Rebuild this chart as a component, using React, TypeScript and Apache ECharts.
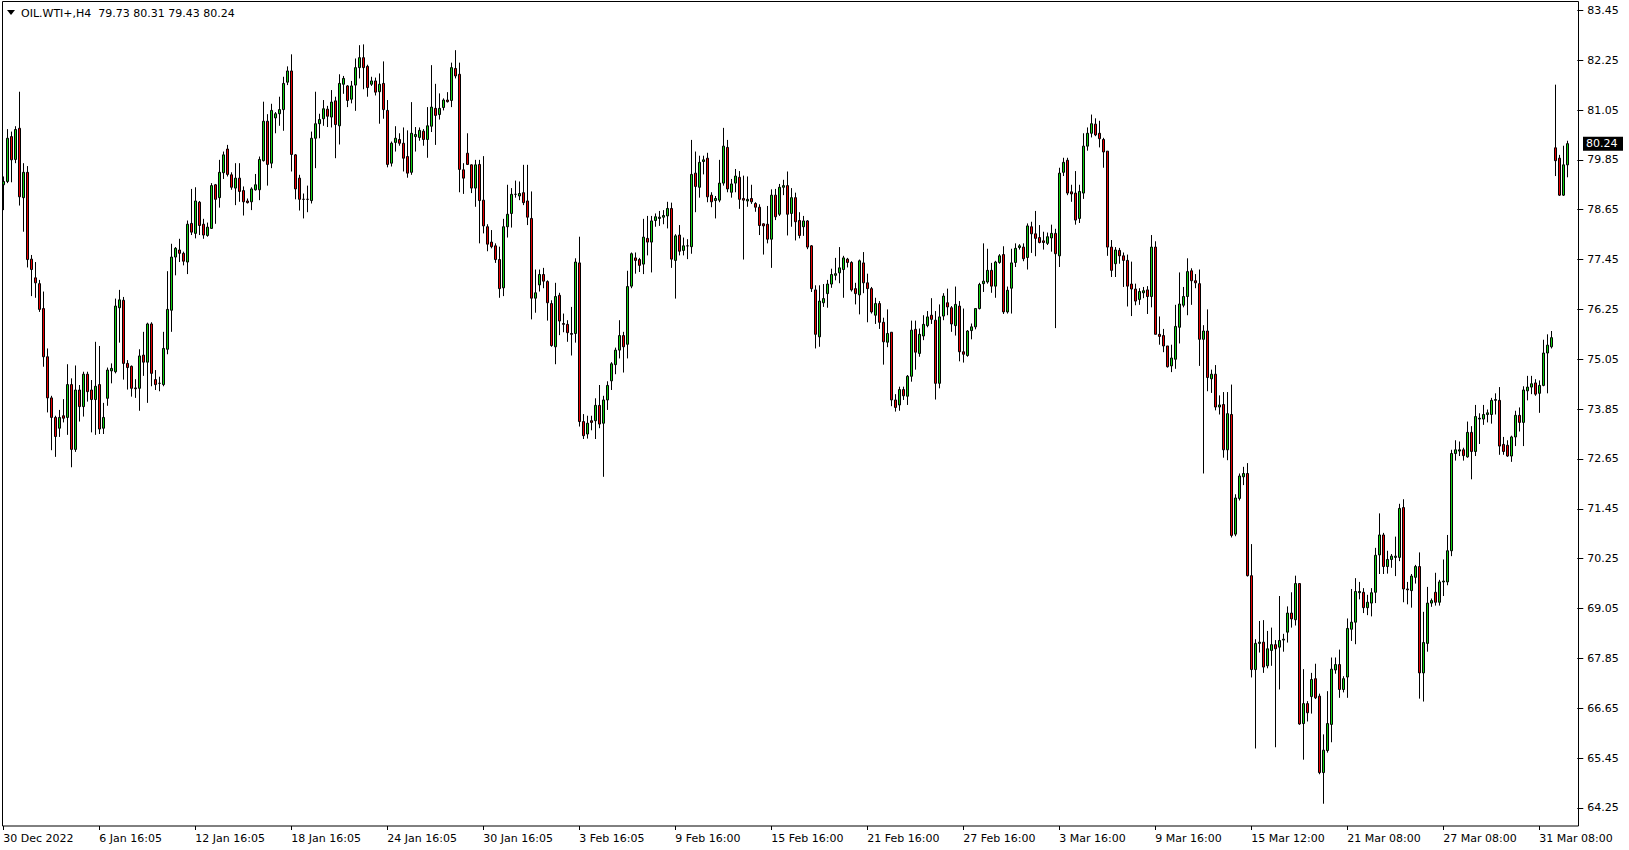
import React, { useEffect, useRef } from "react";
import * as echarts from "echarts";

const SYMBOL = "OIL.WTI+,H4";
const LAST = { open: 79.73, high: 80.31, low: 79.43, close: 80.24 };

const timeLabels = [
  "30 Dec 2022", "6 Jan 16:05", "12 Jan 16:05", "18 Jan 16:05", "24 Jan 16:05",
  "30 Jan 16:05", "3 Feb 16:05", "9 Feb 16:00", "15 Feb 16:00", "21 Feb 16:00",
  "27 Feb 16:00", "3 Mar 16:00", "9 Mar 16:00", "15 Mar 12:00", "21 Mar 08:00",
  "27 Mar 08:00", "31 Mar 08:00",
];
const BARS_PER_LABEL = 24;
const TOTAL_SLOTS = 394;

const priceTicks = [
  83.45, 82.25, 81.05, 79.85, 78.65, 77.45, 76.25, 75.05, 73.85,
  72.65, 71.45, 70.25, 69.05, 67.85, 66.65, 65.45, 64.25,
];

// each bar: [open, high, low, close]
const barsSeg1 = [
  [79.25, 79.45, 78.64, 79.33], [79.33, 80.59, 79.29, 80.37], [80.41, 80.53, 79.31, 79.85], [79.86, 80.66, 79.77, 80.58],
  [80.61, 81.49, 78.75, 78.96], [78.94, 79.77, 78.12, 79.55], [79.55, 79.7, 77.26, 77.45], [77.46, 77.56, 76.57, 77.21],
  [77.01, 77.39, 76.53, 76.89], [76.87, 76.96, 76.19, 76.25], [76.27, 76.68, 74.87, 75.11], [75.11, 75.31, 73.77, 74.12],
  [74.12, 74.17, 72.86, 73.65], [73.65, 73.69, 72.7, 73.19], [73.39, 73.83, 73.18, 73.65], [73.69, 74.09, 73.53, 73.63],
  [73.65, 74.93, 73.23, 74.44], [74.44, 74.59, 72.45, 72.88], [72.88, 74.9, 72.82, 74.31], [74.31, 74.43, 73.55, 73.91],
  [73.91, 74.75, 73.67, 74.69], [74.69, 74.75, 74.03, 74.27], [74.31, 74.55, 73.29, 74.08], [74.08, 75.47, 73.23, 74.4],
  [74.44, 75.37, 73.25, 73.37], [73.39, 74.0, 73.25, 73.65], [74.11, 74.85, 73.93, 74.79], [74.77, 74.95, 74.47, 74.83],
  [74.75, 76.51, 74.71, 76.33], [76.29, 76.72, 75.45, 76.48], [76.47, 76.55, 74.56, 74.95], [74.95, 75.03, 74.32, 74.85],
  [74.88, 74.9, 74.15, 74.35], [74.36, 74.57, 74.12, 74.34], [74.35, 75.29, 73.81, 75.13], [75.15, 75.71, 74.65, 74.98],
  [74.98, 75.93, 74.0, 75.9], [75.9, 75.94, 74.4, 74.71], [74.56, 74.79, 74.31, 74.44], [74.47, 74.63, 74.28, 74.47],
  [74.44, 75.71, 74.4, 75.31], [75.29, 77.17, 75.17, 76.25], [76.23, 77.83, 75.71, 77.51], [77.51, 77.75, 77.07, 77.72],
  [77.68, 77.95, 77.39, 77.6], [77.6, 77.64, 77.31, 77.41], [77.39, 78.39, 77.1, 78.3], [78.32, 79.15, 78.04, 78.11],
  [78.08, 79.19, 77.96, 78.86], [78.83, 78.86, 78.04, 78.27], [78.3, 78.43, 77.95, 78.04], [78.03, 78.34, 78.0, 78.23],
  [78.2, 79.29, 78.19, 79.23], [79.25, 79.27, 78.31, 78.9], [78.94, 79.85, 78.7, 79.55], [79.54, 80.05, 79.39, 79.97],
  [80.11, 80.21, 79.45, 79.5], [79.49, 79.55, 79.13, 79.19], [79.17, 79.77, 78.76, 79.41], [79.41, 79.77, 78.84, 79.09],
  [79.11, 79.21, 78.51, 78.84], [78.86, 78.92, 78.8, 78.82], [78.84, 79.19, 78.64, 79.15], [79.13, 79.51, 79.11, 79.25],
  [79.13, 79.93, 78.88, 79.86], [79.83, 81.25, 79.81, 80.78],
];

const barsSeg2 = [
  [80.78, 80.95, 79.23, 79.74], [79.77, 81.2, 79.65, 81.04], [80.86, 81.0, 80.49, 80.96], [80.96, 81.37, 80.67, 81.06],
  [81.06, 81.85, 80.55, 81.69], [81.72, 82.1, 81.65, 81.99], [81.99, 82.39, 79.57, 79.98], [79.97, 79.99, 78.9, 79.15],
  [79.41, 79.49, 78.63, 78.9], [78.9, 79.04, 78.44, 78.9], [78.9, 79.23, 78.59, 78.9], [78.87, 80.53, 78.8, 80.37],
  [80.37, 81.49, 79.65, 80.72], [80.72, 80.96, 80.37, 80.82], [80.84, 81.29, 80.67, 81.08], [81.07, 81.15, 80.64, 80.9],
  [80.88, 81.53, 80.63, 81.24], [81.27, 81.37, 79.89, 80.7], [80.67, 81.91, 80.22, 81.69], [81.67, 81.87, 81.44, 81.81],
  [81.63, 81.65, 81.12, 81.28], [81.31, 81.75, 81.21, 81.63], [81.65, 82.29, 81.03, 82.07], [82.07, 82.61, 81.81, 82.31],
  [82.31, 82.63, 81.55, 82.07], [82.1, 82.14, 81.37, 81.59], [81.67, 81.85, 81.63, 81.75], [81.75, 81.83, 81.4, 81.48],
  [81.49, 81.93, 80.72, 81.67], [81.69, 82.22, 80.84, 81.06], [81.04, 81.29, 79.67, 79.74], [79.77, 80.29, 79.69, 80.25],
  [80.27, 80.66, 80.05, 80.37], [80.34, 80.49, 80.19, 80.25], [80.25, 80.63, 79.57, 79.89], [79.93, 80.56, 79.42, 79.53],
  [79.55, 81.24, 79.49, 80.49], [80.41, 80.64, 80.05, 80.46], [80.39, 80.63, 80.31, 80.56], [80.54, 80.59, 80.19, 80.34],
  [80.34, 81.12, 79.9, 80.67], [80.66, 82.13, 80.52, 81.12], [81.09, 81.68, 80.21, 80.92], [80.94, 81.45, 80.82, 81.09],
  [81.11, 81.33, 81.04, 81.29], [81.29, 81.48, 81.23, 81.25], [81.28, 82.19, 81.12, 82.07], [82.05, 82.49, 81.81, 81.87],
  [81.91, 82.19, 79.07, 79.62], [79.61, 79.77, 79.03, 79.41], [80.01, 80.49, 79.73, 79.74], [79.73, 79.74, 79.05, 79.17],
  [79.17, 79.85, 78.72, 79.73], [79.74, 79.85, 77.84, 78.87], [78.88, 79.94, 78.08, 78.26], [78.24, 78.3, 77.65, 77.82],
  [77.87, 78.16, 77.72, 77.76], [77.78, 77.84, 77.37, 77.45], [77.45, 77.76, 76.53, 76.75], [76.77, 78.43, 76.57, 78.24],
  [78.24, 79.25, 77.98, 78.54], [78.56, 79.17, 78.22, 79.02], [79.02, 79.35, 78.94, 79.02], [78.98, 79.33, 78.88, 79.04],
  [79.06, 79.73, 78.76, 78.82],
];

const barsSeg3 = [
  [78.86, 79.73, 78.28, 78.47], [78.44, 79.09, 76.01, 76.52], [76.52, 77.21, 76.17, 76.65], [76.84, 77.21, 76.68, 77.09],
  [77.09, 77.25, 76.76, 76.93], [76.92, 76.95, 75.98, 76.41], [76.39, 76.47, 75.35, 75.38], [75.35, 76.89, 74.93, 76.56],
  [76.59, 76.65, 75.63, 75.97], [75.91, 76.15, 75.7, 75.89], [75.89, 75.99, 75.47, 75.69], [75.67, 76.31, 75.14, 75.65],
  [75.67, 77.48, 75.45, 77.39], [77.37, 78.0, 73.43, 73.55], [73.55, 73.73, 73.13, 73.21], [73.25, 73.69, 73.14, 73.51],
  [73.57, 73.69, 73.34, 73.53], [73.57, 74.11, 73.13, 73.94], [73.94, 74.43, 73.39, 73.49], [73.51, 74.17, 72.22, 74.07],
  [74.07, 74.52, 73.83, 74.42], [74.53, 74.98, 74.31, 74.94], [74.92, 75.33, 74.69, 75.27], [75.27, 75.99, 75.07, 75.62],
  [75.62, 75.71, 74.73, 75.35], [75.41, 77.18, 75.07, 76.8], [76.81, 77.62, 76.76, 77.59], [77.49, 77.62, 77.11, 77.43],
  [77.45, 77.49, 77.15, 77.31], [77.34, 78.43, 77.1, 77.99], [77.96, 78.5, 77.55, 77.87], [77.87, 78.5, 77.14, 78.38],
  [78.39, 78.56, 78.24, 78.48], [78.44, 78.62, 78.26, 78.47], [78.47, 78.64, 78.3, 78.51], [78.5, 78.84, 78.2, 78.68],
  [78.68, 78.82, 77.25, 77.46], [77.43, 78.06, 76.51, 78.02], [78.04, 78.28, 77.55, 77.65], [77.67, 77.98, 77.55, 77.78],
  [77.78, 77.94, 77.46, 77.78], [77.76, 80.33, 77.59, 79.5], [79.53, 80.05, 78.59, 79.21], [79.19, 79.95, 78.94, 79.79],
  [79.81, 79.95, 79.5, 79.85], [79.89, 80.02, 78.83, 78.96], [79.0, 79.07, 78.71, 78.84], [78.87, 78.98, 78.44, 78.92],
  [78.88, 79.85, 78.83, 79.29], [79.29, 80.62, 79.23, 80.18], [80.15, 80.33, 79.07, 79.15], [79.07, 79.39, 78.94, 79.27],
  [79.29, 79.63, 79.07, 79.46], [79.43, 79.58, 78.67, 78.9], [78.92, 79.47, 77.45, 78.88], [78.86, 79.45, 78.72, 78.9],
  [78.92, 79.25, 78.79, 78.84], [78.8, 78.83, 78.6, 78.71], [78.71, 78.78, 78.04, 78.27], [78.31, 78.32, 77.57, 78.26],
  [78.3, 78.74, 77.84, 77.94], [77.94, 79.14, 77.25, 79.0], [79.0, 79.15, 78.4, 78.48], [78.54, 79.27, 78.5, 79.19],
  [79.19, 79.37, 79.0, 79.23], [79.23, 79.57, 78.03, 78.54],
];

const barsSeg4 = [
  [78.56, 79.17, 78.24, 78.94], [78.94, 79.06, 77.91, 78.36], [78.39, 78.59, 77.96, 78.03], [78.24, 78.5, 78.02, 78.38],
  [78.38, 78.4, 77.7, 77.75], [77.78, 77.8, 76.67, 76.75], [76.72, 76.83, 75.31, 75.65], [75.59, 76.83, 75.35, 76.45],
  [76.41, 76.86, 76.31, 76.51], [76.63, 76.96, 76.29, 76.86], [76.86, 77.23, 76.77, 77.09], [77.07, 77.49, 76.95, 77.11],
  [77.13, 77.75, 76.88, 77.25], [77.21, 77.54, 76.53, 77.49], [77.46, 77.49, 77.26, 77.38], [77.38, 77.41, 76.68, 76.72],
  [76.75, 76.89, 76.37, 76.63], [76.6, 77.45, 76.13, 77.42], [77.37, 77.63, 76.64, 76.89], [76.89, 77.11, 75.94, 76.75],
  [76.75, 76.79, 76.15, 76.19], [76.11, 76.53, 75.9, 76.39], [76.39, 76.45, 75.78, 75.94], [75.94, 76.05, 74.92, 75.47],
  [75.46, 76.25, 75.34, 75.67], [75.7, 75.7, 73.92, 74.07], [74.07, 74.21, 73.79, 73.89], [73.95, 74.39, 73.81, 74.32],
  [74.32, 74.39, 74.07, 74.17], [74.16, 74.67, 73.95, 74.64], [74.64, 75.98, 74.51, 75.75], [75.77, 75.98, 74.8, 75.22],
  [75.19, 75.79, 75.11, 75.65], [75.61, 76.11, 75.51, 75.89], [75.86, 76.21, 75.82, 76.07], [76.11, 76.52, 75.9, 76.01],
  [75.99, 76.21, 74.08, 74.47], [74.47, 76.37, 74.35, 76.07], [76.09, 76.64, 75.99, 76.57], [76.41, 76.75, 76.11, 76.31],
  [76.29, 76.33, 75.71, 75.9], [75.86, 76.8, 75.62, 76.37], [76.33, 76.45, 75.0, 75.23], [75.23, 76.27, 74.97, 75.17],
  [75.14, 75.75, 75.11, 75.73], [75.74, 75.91, 75.53, 75.83], [75.83, 76.27, 75.77, 76.27], [76.27, 76.89, 76.25, 76.85],
  [76.87, 77.84, 76.67, 76.93], [76.91, 77.71, 76.87, 77.19], [77.19, 77.37, 76.65, 76.81], [76.81, 77.42, 76.53, 77.39],
  [77.38, 77.58, 77.35, 77.54], [77.57, 77.77, 76.14, 76.19], [76.19, 76.8, 76.15, 76.71], [76.76, 77.71, 76.15, 77.37],
  [77.38, 77.84, 77.27, 77.72], [77.74, 77.82, 77.69, 77.78], [77.75, 77.84, 77.41, 77.47], [77.5, 78.32, 77.21, 78.26],
  [78.24, 78.36, 77.61, 78.07], [78.07, 78.62, 77.53, 77.96], [77.98, 78.28, 77.84, 77.86], [77.9, 78.12, 77.69, 77.86],
  [77.84, 78.1, 77.8, 78.0],
];

const barsSeg5 = [
  [77.97, 78.29, 77.64, 78.08], [78.08, 78.19, 75.8, 77.59], [77.54, 79.66, 77.27, 79.53], [79.55, 79.9, 79.46, 79.79],
  [79.84, 79.9, 79.0, 79.05], [79.08, 79.25, 78.84, 79.03], [79.05, 79.58, 78.29, 78.4], [78.44, 79.25, 78.33, 79.09],
  [79.05, 80.49, 78.91, 80.18], [80.18, 80.63, 80.07, 80.49], [80.49, 80.94, 80.39, 80.72], [80.71, 80.85, 80.42, 80.45],
  [80.49, 80.79, 80.15, 80.36], [80.34, 80.38, 79.66, 80.04], [80.06, 80.06, 77.54, 77.75], [77.75, 77.92, 77.03, 77.19],
  [77.35, 77.75, 77.03, 77.68], [77.67, 77.73, 77.35, 77.54], [77.54, 77.62, 76.79, 77.43], [77.43, 77.57, 76.32, 76.81],
  [76.86, 77.4, 76.09, 76.74], [76.74, 76.87, 76.35, 76.45], [76.49, 76.76, 76.36, 76.68], [76.65, 76.79, 76.52, 76.7],
  [76.72, 76.81, 76.14, 76.56], [76.56, 78.04, 76.3, 77.75], [77.75, 77.89, 75.65, 75.65], [75.65, 76.08, 75.4, 75.6],
  [75.62, 75.78, 75.22, 75.37], [75.37, 75.37, 74.85, 74.87], [74.89, 75.4, 74.74, 75.08], [75.05, 76.36, 74.82, 75.84],
  [75.82, 77.14, 75.43, 76.38], [76.35, 76.79, 76.3, 76.56], [76.56, 77.48, 76.11, 77.16], [77.18, 77.24, 76.36, 76.94],
  [76.94, 77.1, 76.76, 76.89], [76.87, 77.21, 74.89, 75.53], [75.53, 75.87, 72.3, 75.73], [75.73, 76.25, 74.28, 74.61],
  [74.58, 74.8, 74.24, 74.69], [74.69, 74.91, 73.82, 73.9], [73.9, 74.18, 73.72, 73.95], [73.96, 74.26, 72.68, 72.87],
  [72.87, 74.26, 72.62, 73.74], [73.72, 74.44, 70.76, 70.81], [70.84, 71.8, 70.79, 71.71], [71.7, 72.3, 71.65, 72.24],
  [72.22, 72.46, 72.02, 72.3], [72.3, 72.55, 69.82, 69.84], [69.84, 70.6, 67.39, 67.58], [67.58, 68.31, 65.68, 68.21],
  [68.21, 68.75, 67.99, 68.24], [68.24, 68.77, 67.5, 67.64], [67.67, 68.51, 67.61, 68.08], [68.04, 68.59, 67.67, 68.18],
  [68.18, 68.29, 65.71, 68.08], [68.12, 69.35, 67.1, 68.28], [68.29, 68.44, 68.01, 68.31], [68.48, 69.1, 68.23, 68.94],
  [68.94, 69.44, 68.59, 68.8], [68.78, 69.84, 68.64, 69.65], [69.65, 69.65, 66.25, 66.27], [66.28, 67.59, 65.41, 66.76],
  [66.76, 66.82, 66.33, 66.54], [66.93, 67.5, 66.52, 67.34],
];

const barsSeg6 = [
  [67.36, 67.72, 66.87, 66.9], [66.94, 67.0, 65.06, 65.1], [65.1, 66.02, 64.35, 65.64], [65.63, 67.06, 65.58, 66.28],
  [66.26, 67.87, 65.83, 67.59], [67.57, 67.87, 67.48, 67.7], [67.7, 68.06, 66.9, 67.1], [67.1, 67.42, 67.03, 67.36],
  [67.4, 68.81, 66.9, 68.57], [68.55, 69.52, 68.27, 68.72], [68.72, 69.78, 68.19, 69.46], [69.43, 69.69, 69.27, 69.46],
  [69.44, 69.54, 68.94, 69.07], [69.07, 69.38, 68.89, 69.2], [69.18, 69.54, 68.86, 69.43], [69.44, 70.51, 69.18, 70.33],
  [70.34, 71.34, 69.88, 70.82], [70.82, 70.87, 69.88, 70.06], [70.06, 70.44, 69.89, 70.23], [70.23, 70.36, 70.03, 70.31],
  [70.28, 70.78, 69.83, 70.31], [70.28, 71.57, 70.19, 71.46], [71.48, 71.68, 69.2, 69.52], [69.52, 69.69, 69.15, 69.5],
  [69.48, 69.88, 69.07, 69.83], [69.8, 70.1, 69.65, 70.06], [70.06, 70.4, 66.88, 67.5], [67.5, 68.97, 66.81, 68.23],
  [68.21, 69.57, 68.01, 69.18], [69.18, 69.29, 69.09, 69.24], [69.44, 69.91, 69.12, 69.2], [69.2, 69.74, 69.12, 69.69],
  [69.69, 70.23, 69.35, 69.71], [69.69, 70.82, 69.61, 70.44], [70.44, 72.87, 70.31, 72.78], [72.78, 73.1, 72.61, 72.87],
  [72.84, 73.07, 72.72, 72.87], [72.87, 72.92, 72.61, 72.73], [72.7, 73.55, 72.68, 73.29], [73.29, 73.44, 72.16, 72.83],
  [72.83, 73.95, 72.72, 73.67], [73.61, 73.75, 73.01, 73.63], [73.61, 73.95, 73.47, 73.72], [73.72, 73.84, 73.53, 73.76],
  [73.72, 74.12, 73.5, 74.06], [74.06, 74.23, 73.72, 74.08], [74.06, 74.38, 72.75, 72.96], [73.0, 73.18, 72.75, 72.83],
  [72.98, 73.1, 72.7, 72.72], [72.72, 73.21, 72.58, 73.18], [73.18, 73.81, 72.96, 73.7], [73.7, 73.89, 73.31, 73.53],
  [73.53, 74.4, 72.96, 74.31], [74.29, 74.65, 74.06, 74.38], [74.38, 74.65, 74.21, 74.46], [74.48, 74.57, 74.17, 74.21],
  [74.23, 74.54, 73.76, 74.42], [74.42, 75.52, 74.4, 75.2], [75.2, 75.65, 74.23, 75.39], [75.35, 75.73, 75.31, 75.57],
  [80.14, 81.66, 79.46, 79.83], [79.89, 79.97, 78.98, 79.0], [79.0, 80.19, 78.98, 79.73],
  [LAST.open, LAST.high, LAST.low, LAST.close],
];

const FONT = '"DejaVu Sans", sans-serif';

export default function App() {
  const ref = useRef<HTMLDivElement>(null);

  useEffect(() => {
    if (!ref.current) return;
    const chart = echarts.init(ref.current, undefined, { renderer: "svg" });

    const bars = [...barsSeg1, ...barsSeg2, ...barsSeg3, ...barsSeg4, ...barsSeg5, ...barsSeg6];
    const categories = Array.from({ length: TOTAL_SLOTS }, (_, i) => String(i));
    // echarts candlestick order: [open, close, low, high]
    const seriesData: any[] = bars.map((b) => [b[0], b[3], b[2], b[1]]);
    while (seriesData.length < TOTAL_SLOTS) seriesData.push("-");

    const labelInterval = (index: number) =>
      index % BARS_PER_LABEL === 0 && index / BARS_PER_LABEL < timeLabels.length;

    const header = `${SYMBOL}  ${LAST.open.toFixed(2)} ${LAST.high.toFixed(2)} ${LAST.low.toFixed(2)} ${LAST.close.toFixed(2)}`;

    const baseGraphics: any[] = [
      {
        type: "rect",
        id: "frame",
        silent: true,
        z: 100,
        shape: { x: 2.5, y: 1.5, width: 1576, height: 824.5 },
        style: { fill: "none", stroke: "#000", lineWidth: 1 },
      },
      {
        type: "polygon",
        id: "tri",
        silent: true,
        shape: { points: [[7, 10], [15, 10], [11, 15]] },
        style: { fill: "#000" },
      },
      {
        type: "text",
        id: "header",
        silent: true,
        x: 21,
        y: 13,
        style: {
          text: header,
          fill: "#000",
          font: `11px ${FONT}`,
          verticalAlign: "middle",
        },
      },
    ];

    chart.setOption({
      animation: false,
      backgroundColor: "#ffffff",
      grid: { left: 1.3, top: 2, width: TOTAL_SLOTS * 4, height: 824, show: false },
      xAxis: {
        type: "category",
        data: categories,
        boundaryGap: true,
        axisLine: { show: false },
        axisTick: {
          show: true,
          alignWithLabel: true,
          interval: labelInterval,
          length: 4,
          lineStyle: { color: "#000", width: 1 },
        },
        axisLabel: {
          interval: labelInterval,
          formatter: (v: string) => timeLabels[Number(v) / BARS_PER_LABEL] ?? "",
          align: "left",
          margin: 7,
          color: "#000",
          fontFamily: FONT,
          fontSize: 11,
        },
        splitLine: { show: false },
      },
      yAxis: {
        type: "value",
        position: "right",
        min: 63.814,
        max: 83.65,
        axisLine: { show: false },
        splitLine: { show: false },
        axisTick: {
          show: true,
          customValues: priceTicks,
          length: 6,
          lineStyle: { color: "#000", width: 1 },
        },
        axisLabel: {
          customValues: priceTicks,
          formatter: (v: number) => v.toFixed(2),
          margin: 10,
          color: "#000",
          fontFamily: FONT,
          fontSize: 11,
        },
      },
      series: [
        {
          type: "candlestick",
          data: seriesData,
          barWidth: 3,
          itemStyle: {
            color: "#10d010",
            color0: "#e80000",
            borderColor: "#000",
            borderColor0: "#000",
            borderColorDoji: "#000",
            borderWidth: 1,
          },
        },
      ],
      graphic: baseGraphics,
    });

    // price marker box at the last close, positioned through the y-axis scale
    const yPix = chart.convertToPixel({ yAxisIndex: 0 }, LAST.close) as number;
    chart.setOption({
      graphic: [
        ...baseGraphics,
        {
          type: "group",
          id: "lastPrice",
          silent: true,
          z: 110,
          children: [
            {
              type: "rect",
              shape: { x: 1583, y: yPix - 7, width: 40, height: 14 },
              style: { fill: "#000" },
            },
            {
              type: "text",
              x: 1586,
              y: yPix,
              style: {
                text: LAST.close.toFixed(2),
                fill: "#fff",
                font: `11px ${FONT}`,
                verticalAlign: "middle",
              },
            },
          ],
        },
      ],
    });

    return () => chart.dispose();
  }, []);

  return (
    <div
      ref={ref}
      style={{ position: "fixed", left: 0, top: 0, width: 1629, height: 850 }}
    />
  );
}
